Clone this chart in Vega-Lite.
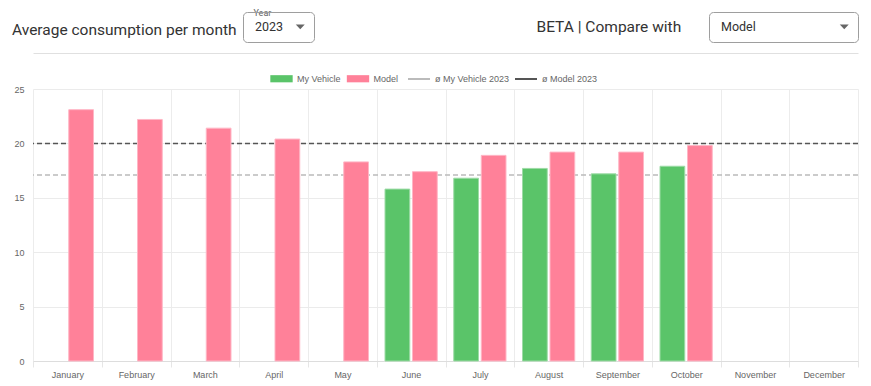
{
  "$schema": "https://vega.github.io/schema/vega-lite/v6.json",
  "autosize": {"type": "none"},
  "width": 825,
  "height": 272,
  "padding": {"left": 33, "top": 89, "right": 13, "bottom": 25},
  "background": "#ffffff",
  "config": {
    "view": {"stroke": null},
    "font": "Liberation Sans"
  },
  "title": {
    "text": "Average consumption per month",
    "anchor": "start",
    "frame": "group",
    "orient": "top",
    "offset": 0,
    "dx": -21,
    "dy": 42,
    "baseline": "alphabetic",
    "font": "Roboto",
    "fontSize": 15.5,
    "fontWeight": "normal",
    "color": "#333333"
  },
  "datasets": {
    "bars": [
      {"month": "January", "series": "Model", "value": 23.1},
      {"month": "February", "series": "Model", "value": 22.2},
      {"month": "March", "series": "Model", "value": 21.4},
      {"month": "April", "series": "Model", "value": 20.4},
      {"month": "May", "series": "Model", "value": 18.3},
      {"month": "June", "series": "Model", "value": 17.4},
      {"month": "July", "series": "Model", "value": 18.9},
      {"month": "August", "series": "Model", "value": 19.2},
      {"month": "September", "series": "Model", "value": 19.2},
      {"month": "October", "series": "Model", "value": 19.8},
      {"month": "June", "series": "My Vehicle", "value": 15.8},
      {"month": "July", "series": "My Vehicle", "value": 16.8},
      {"month": "August", "series": "My Vehicle", "value": 17.7},
      {"month": "September", "series": "My Vehicle", "value": 17.2},
      {"month": "October", "series": "My Vehicle", "value": 17.9}
    ],
    "averages": [
      {"series": "ø My Vehicle 2023", "value": 17.1},
      {"series": "ø Model 2023", "value": 20.0}
    ]
  },
  "resolve": {
    "axis": {"x": "independent", "y": "independent"},
    "scale": {"opacity": "independent"},
    "legend": {"opacity": "independent"}
  },
  "layer": [
    {
      "data": {"name": "averages"},
      "mark": {"type": "rule", "strokeDash": [5, 3], "strokeWidth": 1.5},
      "encoding": {
        "y": {
          "field": "value",
          "type": "quantitative",
          "scale": {"domain": [0, 25], "nice": false},
          "axis": {
            "orient": "right",
            "labels": false,
            "ticks": false,
            "domain": false,
            "grid": false,
            "title": "BETA | Compare with",
            "titleX": -322,
            "titleY": -58,
            "titleAngle": 0,
            "titleAlign": "left",
            "titleBaseline": "alphabetic",
            "titleFont": "Roboto",
            "titleFontSize": 15.5,
            "titleFontWeight": "normal",
            "titleColor": "#333333"
          }
        },
        "stroke": {
          "field": "series",
          "type": "nominal",
          "scale": {"domain": ["ø My Vehicle 2023", "ø Model 2023"], "range": ["#bbbbbb", "#555555"]},
          "legend": {
            "orient": "none",
            "legendX": 374,
            "legendY": -22,
            "direction": "horizontal",
            "title": null,
            "padding": 0,
            "labelFontSize": 9,
            "labelColor": "#666666",
            "labelFont": "Liberation Sans",
            "symbolType": "stroke",
            "symbolSize": 484,
            "symbolStrokeWidth": 2,
            "symbolDash": [],
            "labelOffset": 4,
            "columnPadding": 1
          }
        }
      }
    },
    {
      "data": {"name": "bars"},
      "transform": [{"filter": "datum.series === 'My Vehicle'"}],
      "mark": {"type": "bar", "strokeWidth": 1, "stroke": "#9ddba6"},
      "encoding": {
        "x": {
          "field": "month",
          "type": "nominal",
          "sort": null,
          "scale": {
            "domain": ["January", "February", "March", "April", "May", "June", "July", "August", "September", "October", "November", "December"],
            "paddingInner": 0,
            "paddingOuter": 0
          },
          "axis": {
            "orient": "bottom",
            "labelAngle": 0,
            "labelFontSize": 9,
            "labelColor": "#666666",
            "labelPadding": 3,
            "tickBand": "extent",
            "ticks": true,
            "tickSize": 6,
            "tickColor": "#e6e6e6",
            "grid": true,
            "gridColor": "#ececec",
            "domainColor": "#dddddd",
            "title": null
          }
        },
        "xOffset": {
          "field": "series",
          "type": "nominal",
          "scale": {"domain": ["My Vehicle", "Model"], "paddingInner": 0.1, "paddingOuter": 0.3}
        },
        "y": {
          "field": "value",
          "type": "quantitative",
          "scale": {"domain": [0, 25], "nice": false},
          "axis": {
            "orient": "left",
            "values": [0, 5, 10, 15, 20, 25],
            "labelFontSize": 9,
            "labelColor": "#666666",
            "labelPadding": 9,
            "ticks": false,
            "domain": false,
            "grid": true,
            "gridColor": "#ebebeb",
            "title": "Year",
            "titleX": 220,
            "titleY": -74,
            "titleAngle": 0,
            "titleAlign": "left",
            "titleBaseline": "alphabetic",
            "titleFont": "Roboto",
            "titleFontSize": 9,
            "titleFontWeight": "normal",
            "titleColor": "#666666"
          }
        },
        "color": {
          "field": "series",
          "type": "nominal",
          "scale": {
            "domain": ["My Vehicle", "Model"],
            "range": ["#5ac469", "#ff8199"]
          },
          "legend": {
            "orient": "none",
            "legendX": 237,
            "legendY": -22,
            "direction": "horizontal",
            "title": null,
            "padding": 0,
            "labelFontSize": 9,
            "labelColor": "#666666",
            "labelFont": "Liberation Sans",
            "symbolType": "M-1,-0.32H1V0.32H-1Z",
            "symbolSize": 500,
            "labelOffset": 4,
            "columnPadding": 5.5,
            "symbolStrokeWidth": 0,
            "symbolOpacity": 1
          }
        },
        "opacity": {
          "datum": "Model",
          "type": "nominal",
          "scale": {"domain": ["Model"], "range": [1]},
          "legend": {
            "orient": "none",
            "legendX": 676,
            "legendY": -77,
            "title": null,
            "padding": 8.5,
            "cornerRadius": 4,
            "strokeColor": "#9e9e9e",
            "fillColor": null,
            "labelFont": "Roboto",
            "labelFontSize": 12.5,
            "labelColor": "#333333",
            "labelExpr": "datum.label + '\u00a0\u00a0\u00a0\u00a0\u00a0\u00a0\u00a0\u00a0\u00a0\u00a0\u00a0\u00a0\u00a0\u00a0\u00a0\u00a0\u00a0\u00a0\u00a0\u00a0\u00a0\u00a0\u00a0\u00a0\u00a0\u00a0\u00a0\u00a0\u00a0\u00a0\u00a0'",
            "labelOffset": -129.5,
            "symbolOffset": 120.5,
            "symbolSize": 81,
            "symbolType": "M-1,-0.5H1L0,0.55Z",
            "symbolFillColor": "#666666",
            "symbolStrokeWidth": 0,
            "encode": {
              "symbols": {"update": {"opacity": {"value": 1}, "fill": {"value": "#666666"}}}
            }
          }
        }
      }
    },
    {
      "data": {"name": "bars"},
      "transform": [{"filter": "datum.series === 'Model'"}],
      "mark": {"type": "bar", "strokeWidth": 1, "stroke": "#ffb6c5"},
      "encoding": {
        "x": {
          "field": "month",
          "type": "nominal",
          "sort": null,
          "scale": {
            "domain": ["January", "February", "March", "April", "May", "June", "July", "August", "September", "October", "November", "December"],
            "paddingInner": 0,
            "paddingOuter": 0
          },
          "axis": {
            "orient": "top",
            "offset": 36,
            "labels": false,
            "ticks": false,
            "grid": false,
            "domain": true,
            "domainColor": "#e0e0e0",
            "title": null
          }
        },
        "xOffset": {
          "field": "series",
          "type": "nominal",
          "scale": {"domain": ["My Vehicle", "Model"], "paddingInner": 0.1, "paddingOuter": 0.3}
        },
        "y": {
          "field": "value",
          "type": "quantitative",
          "scale": {"domain": [0, 25], "nice": false},
          "axis": null
        },
        "color": {
          "field": "series",
          "type": "nominal",
          "scale": {
            "domain": ["My Vehicle", "Model"],
            "range": ["#5ac469", "#ff8199"]
          },
          "legend": {
            "orient": "none",
            "legendX": 237,
            "legendY": -22,
            "direction": "horizontal",
            "title": null,
            "padding": 0,
            "labelFontSize": 9,
            "labelColor": "#666666",
            "labelFont": "Liberation Sans",
            "symbolType": "M-1,-0.32H1V0.32H-1Z",
            "symbolSize": 500,
            "labelOffset": 4,
            "columnPadding": 5.5,
            "symbolStrokeWidth": 0,
            "symbolOpacity": 1
          }
        },
        "opacity": {
          "datum": "2023",
          "type": "nominal",
          "scale": {"domain": ["2023"], "range": [1]},
          "legend": {
            "orient": "none",
            "legendX": 210,
            "legendY": -77,
            "title": null,
            "padding": 8.5,
            "cornerRadius": 4,
            "strokeColor": "#9e9e9e",
            "fillColor": null,
            "labelFont": "Roboto",
            "labelFontSize": 12.5,
            "labelColor": "#333333",
            "labelExpr": "datum.label + '\u00a0\u00a0\u00a0\u00a0\u00a0\u00a0\u00a0\u00a0\u00a0\u00a0\u00a0\u00a0'",
            "labelOffset": -51.5,
            "symbolOffset": 42.5,
            "symbolSize": 81,
            "symbolType": "M-1,-0.5H1L0,0.55Z",
            "symbolFillColor": "#666666",
            "symbolStrokeWidth": 0,
            "encode": {
              "legend": {"update": {"strokeDash": {"value": [3, 23, 1000]}}},
              "symbols": {"update": {"opacity": {"value": 1}, "fill": {"value": "#666666"}}}
            }
          }
        }
      }
    }
  ]
}
